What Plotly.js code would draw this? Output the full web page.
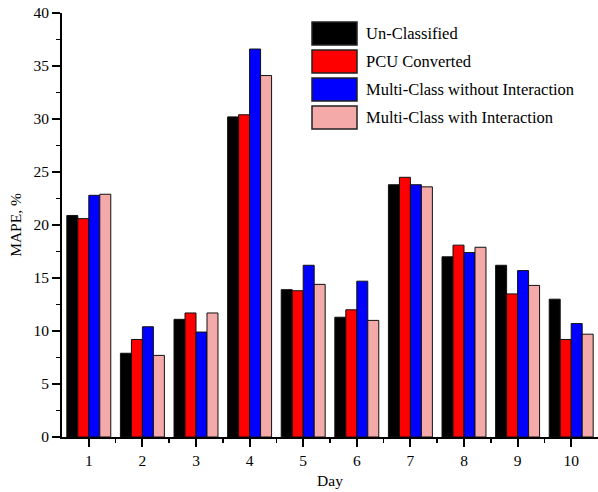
<!DOCTYPE html>
<html>
<head>
<meta charset="utf-8">
<script src="https://cdn.plot.ly/plotly-3.0.1.min.js"></script>
<style>html,body{margin:0;padding:0;background:#fff;}#chart{width:598px;height:492px;}</style>
</head>
<body>
<div id="chart"></div>
<script>
const days = [1, 2, 3, 4, 5, 6, 7, 8, 9, 10];
const seriesNames = ["Un-Classified", "PCU Converted", "Multi-Class without Interaction", "Multi-Class with Interaction"];
const unClassified = [20.9, 7.9, 11.1, 30.2, 13.9, 11.3, 23.8, 17.0, 16.2, 13.0];
const pcuConverted = [20.6, 9.2, 11.7, 30.4, 13.8, 12.0, 24.5, 18.1, 13.5, 9.2];
const multiWithout = [22.8, 10.4, 9.9, 36.6, 16.2, 14.7, 23.8, 17.4, 15.7, 10.7];
const multiWith = [22.9, 7.7, 11.7, 34.1, 14.4, 11.0, 23.6, 17.9, 14.3, 9.7];
const yTickVals = [0, 5, 10, 15, 20, 25, 30, 35, 40];
const colors = ["#000000", "#ff0000", "#0000ff", "#f5aaaa"];

const allSeries = [unClassified, pcuConverted, multiWithout, multiWith];
const FONT = "Liberation Serif, DejaVu Serif, serif";

const traces = allSeries.map((vals, i) => ({
  type: "bar",
  name: seriesNames[i],
  x: days,
  y: vals,
  marker: {color: colors[i], line: {color: "#111", width: 1}},
  showlegend: false,
  hoverinfo: "x+y+name"
}));

// manual legend (large swatches like the original)
const shapes = [];
const annotations = [];
const legX0 = 312, legX1 = 357, legY0 = 22, legStep = 28, legH = 23;
seriesNames.forEach((n, i) => {
  const top = legY0 + i * legStep;
  shapes.push({
    type: "rect", xref: "paper", yref: "paper",
    x0: (legX0 - 62) / 536, x1: (legX1 - 62) / 536,
    y0: 1 - (top + legH - 13) / 424, y1: 1 - (top - 13) / 424,
    fillcolor: colors[i], line: {color: "#222", width: 1.5}
  });
  annotations.push({
    xref: "paper", yref: "paper",
    x: (364 - 62) / 536, y: 1 - (top + legH / 2 - 13) / 424,
    xanchor: "left", yanchor: "middle", showarrow: false,
    text: n, font: {family: FONT, size: 16.5, color: "#000"}
  });
});

const layout = {
  width: 598, height: 492,
  margin: {l: 62, r: 0, t: 13, b: 55},
  paper_bgcolor: "#fff", plot_bgcolor: "#fff",
  barmode: "group", bargap: 0.18, bargroupgap: 0,
  font: {family: FONT, size: 14, color: "#000"},
  xaxis: {
    range: [0.5, 10.5], tickvals: days, ticktext: days.map(String),
    showgrid: false, zeroline: false, showline: true, linecolor: "#000", linewidth: 2,
    ticks: "outside", ticklen: 8, tickwidth: 2, tickcolor: "#000",
    minor: {tickvals: [1.5, 2.5, 3.5, 4.5, 5.5, 6.5, 7.5, 8.5, 9.5], ticks: "outside", ticklen: 4, tickwidth: 1.5, tickcolor: "#000"},
    tickfont: {family: FONT, size: 15.5},
    title: {text: "Day", font: {family: FONT, size: 15.5}, standoff: 8}
  },
  yaxis: {
    range: [0, 40], tickvals: yTickVals,
    showgrid: false, zeroline: false, showline: true, linecolor: "#000", linewidth: 2,
    ticks: "outside", ticklen: 8, tickwidth: 2, tickcolor: "#000",
    minor: {dtick: 2.5, tick0: 0, ticks: "outside", ticklen: 4, tickwidth: 1.5, tickcolor: "#000"},
    tickfont: {family: FONT, size: 15.5},
    title: {text: "MAPE, %", font: {family: FONT, size: 15.5}, standoff: 8}
  },
  shapes: shapes,
  annotations: annotations
};

Plotly.newPlot("chart", traces, layout, {displayModeBar: false, staticPlot: true});
</script>
</body>
</html>
